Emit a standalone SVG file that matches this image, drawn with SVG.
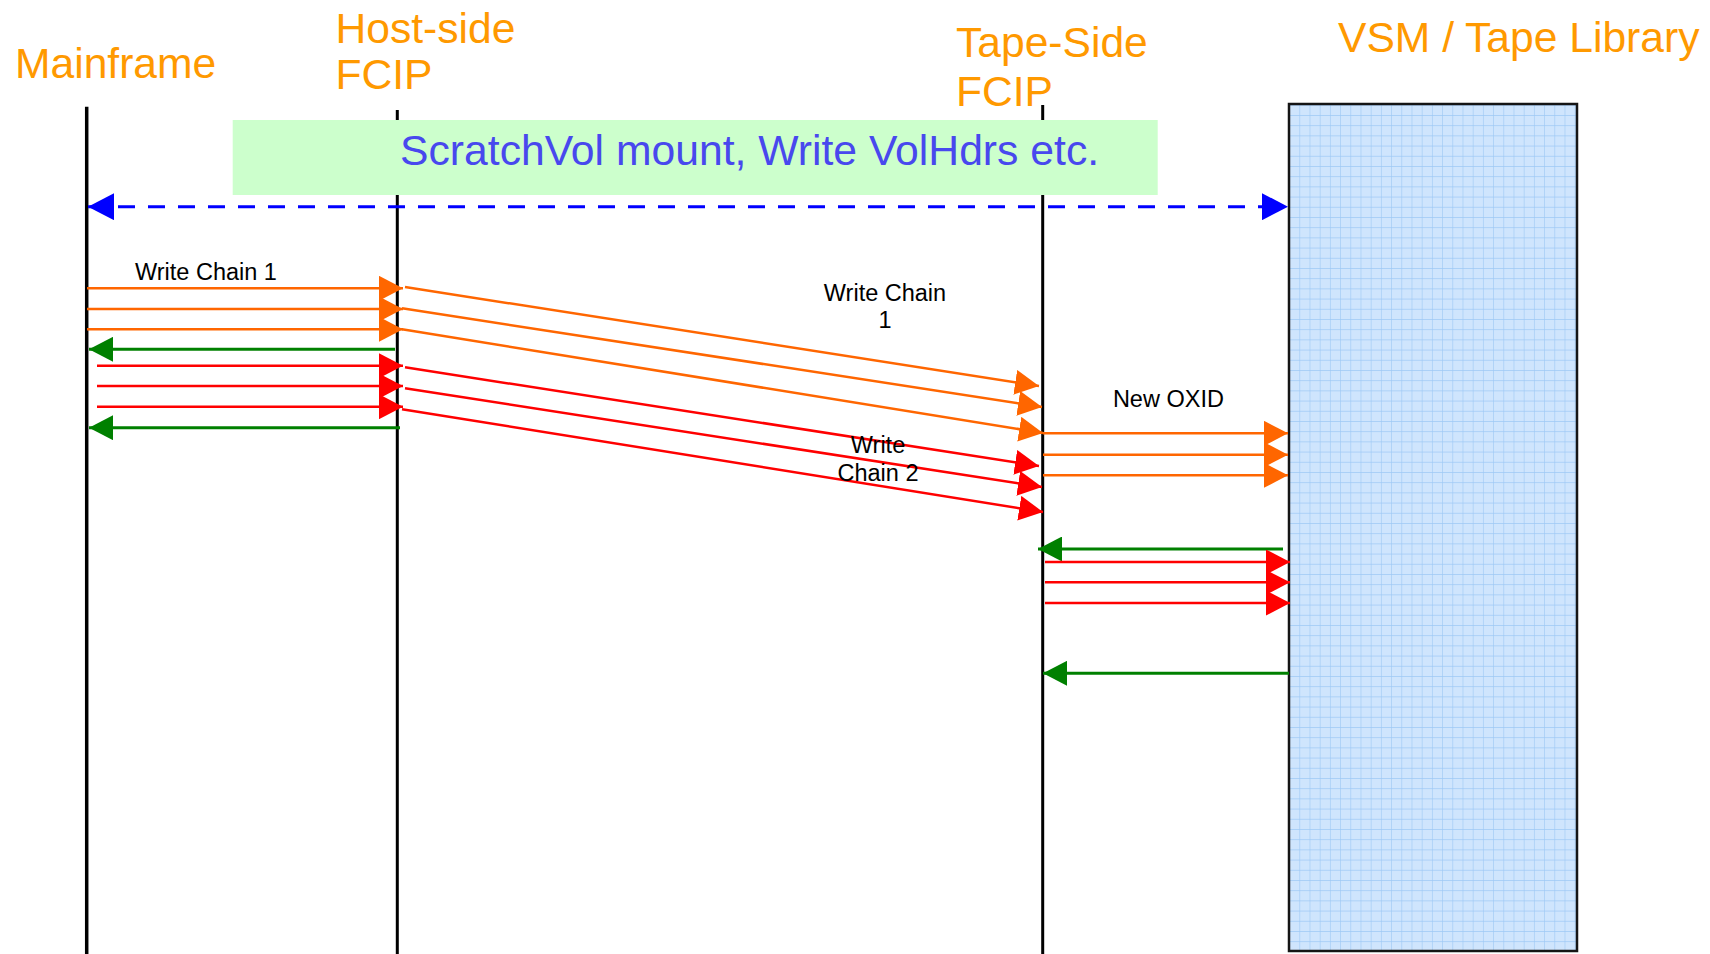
<svg xmlns="http://www.w3.org/2000/svg" width="1710" height="954" viewBox="0 0 1710 954">
<style>
.title{font-family:"Liberation Sans",Arial,sans-serif;font-size:42.6px;fill:#ff9900}
.lbl{font-family:"Liberation Sans",Arial,sans-serif;font-size:23.5px;fill:#000}
.big{font-family:"Liberation Sans",Arial,sans-serif;font-size:42.7px;fill:#4848ee}
.life{stroke:#000;fill:none}
.o{stroke:#ff6600;stroke-width:2.5;fill:none;marker-end:url(#ao)}
.r{stroke:#ff0000;stroke-width:2.5;fill:none;marker-end:url(#ar)}
.g{stroke:#008000;stroke-width:3;fill:none;marker-end:url(#ag)}
.dash{stroke:#0000ff;stroke-width:3;stroke-dasharray:17 13;fill:none;marker-start:url(#ab1);marker-end:url(#ab2)}
</style>
<defs>
<marker id="ao" markerUnits="userSpaceOnUse" markerWidth="25" markerHeight="25" refX="24" refY="12.5" orient="auto"><path d="M0,0 L24,12.5 L0,25 z" fill="#ff6600"/></marker>
<marker id="ar" markerUnits="userSpaceOnUse" markerWidth="25" markerHeight="25" refX="24" refY="12.5" orient="auto"><path d="M0,0 L24,12.5 L0,25 z" fill="#ff0000"/></marker>
<marker id="ag" markerUnits="userSpaceOnUse" markerWidth="25" markerHeight="25" refX="24" refY="12.5" orient="auto"><path d="M0,0 L24,12.5 L0,25 z" fill="#008000"/></marker>
<marker id="ab1" markerUnits="userSpaceOnUse" markerWidth="27" markerHeight="27" refX="0" refY="13.5" orient="auto"><path d="M26,0 L0,13.5 L26,27 z" fill="#0000ff"/></marker>
<marker id="ab2" markerUnits="userSpaceOnUse" markerWidth="27" markerHeight="27" refX="26" refY="13.5" orient="auto"><path d="M0,0 L26,13.5 L0,27 z" fill="#0000ff"/></marker>
<pattern id="grid" patternUnits="userSpaceOnUse" x="1299.3" y="104.8" width="10.2" height="10.2">
<rect width="10.2" height="10.2" fill="#cfe5fd"/>
<path d="M0,0 H10.2 M0,0 V10.2" stroke="#9dc8f5" stroke-width="1.2"/>
</pattern>
</defs>

<g id="title-mainframe"><text class="title" x="15" y="78.3">Mainframe</text></g>
<g id="title-host"><text class="title" x="335.5" y="42.7">Host-side</text><text class="title" x="335.5" y="89.3">FCIP</text></g>
<g id="title-tape"><text class="title" x="956" y="56.7">Tape-Side</text><text class="title" x="956" y="106">FCIP</text></g>
<g id="title-vsm"><text class="title" x="1338" y="51.7">VSM / Tape Library</text></g>

<g id="vsm-box"><rect x="1289" y="104" width="288" height="847" fill="url(#grid)" stroke="#151515" stroke-width="2.5"/></g>

<g id="lifelines">
<line class="life" x1="86.7" y1="106.7" x2="86.7" y2="954" stroke-width="3.5"/>
<line class="life" x1="397.3" y1="110" x2="397.3" y2="954" stroke-width="3"/>
<line class="life" x1="1042.7" y1="105" x2="1042.7" y2="954" stroke-width="3"/>
</g>

<g id="scratch-box"><rect x="232.7" y="120" width="925" height="75" fill="#ccffcc"/><text class="big" x="400" y="165">ScratchVol mount, Write VolHdrs etc.</text></g>

<g id="connectors">
<line class="dash" x1="88" y1="206.7" x2="1288" y2="206.7"/>
<line class="o" x1="87" y1="288.3" x2="403" y2="288.3"/>
<line class="o" x1="87" y1="309" x2="403" y2="309"/>
<line class="o" x1="87" y1="329.3" x2="403" y2="329.3"/>
<line class="g" x1="395" y1="349.3" x2="89" y2="349.3"/>
<line class="r" x1="97" y1="365.7" x2="403" y2="365.7"/>
<line class="r" x1="97" y1="386" x2="403" y2="386"/>
<line class="r" x1="97" y1="406.7" x2="403" y2="406.7"/>
<line class="g" x1="400" y1="427.7" x2="89" y2="427.7"/>
<line class="o" x1="405" y1="287" x2="1039" y2="386"/>
<line class="o" x1="402" y1="308.3" x2="1042" y2="407"/>
<line class="o" x1="402" y1="329.3" x2="1043" y2="433"/>
<line class="r" x1="405" y1="367.3" x2="1039" y2="466"/>
<line class="r" x1="405" y1="388.3" x2="1042" y2="487"/>
<line class="r" x1="402" y1="409.3" x2="1043" y2="512"/>
<line class="o" x1="1043" y1="433.3" x2="1288" y2="433.3"/>
<line class="o" x1="1043" y1="454.7" x2="1288" y2="454.7"/>
<line class="o" x1="1043" y1="475.3" x2="1288" y2="475.3"/>
<line class="g" x1="1283" y1="549" x2="1038" y2="549"/>
<line class="r" x1="1045" y1="562" x2="1290" y2="562"/>
<line class="r" x1="1045" y1="582.3" x2="1290" y2="582.3"/>
<line class="r" x1="1045" y1="603" x2="1290" y2="603"/>
<line class="g" x1="1289" y1="673.3" x2="1043" y2="673.3"/>
</g>

<g id="labels">
<text class="lbl" x="135" y="280">Write Chain 1</text>
<text class="lbl" x="885" y="300.7" text-anchor="middle">Write Chain</text>
<text class="lbl" x="885" y="328" text-anchor="middle">1</text>
<text class="lbl" x="878" y="453" text-anchor="middle">Write</text>
<text class="lbl" x="878" y="480.7" text-anchor="middle">Chain 2</text>
<text class="lbl" x="1168.4" y="407" text-anchor="middle">New OXID</text>
</g>
</svg>
